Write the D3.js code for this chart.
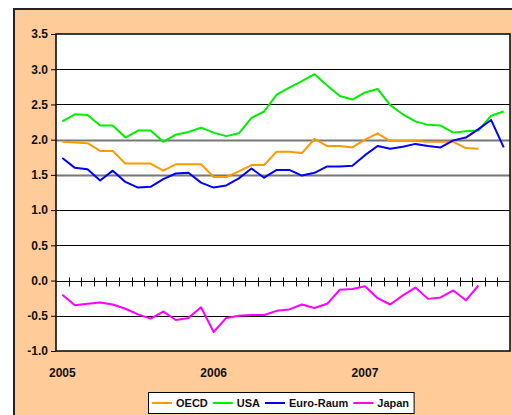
<!DOCTYPE html>
<html>
<head>
<meta charset="utf-8">
<script src="https://cdn.jsdelivr.net/npm/d3@7"></script>
<style>
  html, body { margin: 0; padding: 0; background: #ffffff; }
  svg { display: block; font-family: "Liberation Sans", Arial, sans-serif; }
</style>
</head>
<body>
<svg id="chart" width="512" height="415"></svg>
<script>
// ---- data ----
const months = d3.range(36); // Jan 2005 .. Dec 2007
const yearLabels = ["2005", "2006", "2007"];
const yearIndex = [0, 12, 24];
const yTicks = [-1.0, -0.5, 0.0, 0.5, 1.0, 1.5, 2.0, 2.5, 3.0, 3.5];

const oecd = [1.97,1.96,1.95,1.84,1.84,1.66,1.66,1.66,1.56,1.65,1.65,1.65,1.47,1.47,1.55,1.64,1.64,1.83,1.83,1.81,2.01,1.91,1.91,1.89,2.00,2.09,1.98,1.98,1.98,1.97,1.97,1.97,1.88,1.87];
const usa = [2.26,2.36,2.35,2.20,2.20,2.03,2.13,2.13,1.97,2.07,2.11,2.17,2.10,2.05,2.09,2.31,2.40,2.64,2.74,2.83,2.93,2.77,2.62,2.57,2.67,2.72,2.49,2.36,2.26,2.21,2.20,2.10,2.12,2.13,2.34,2.40];
const euro = [1.74,1.60,1.58,1.42,1.56,1.40,1.32,1.33,1.44,1.52,1.53,1.39,1.32,1.35,1.45,1.59,1.46,1.57,1.57,1.49,1.53,1.62,1.62,1.63,1.78,1.91,1.87,1.90,1.94,1.91,1.89,1.99,2.03,2.15,2.28,1.89];
const japan = [-0.20,-0.35,-0.33,-0.31,-0.34,-0.40,-0.48,-0.54,-0.44,-0.56,-0.53,-0.38,-0.73,-0.53,-0.50,-0.49,-0.49,-0.43,-0.41,-0.34,-0.39,-0.33,-0.13,-0.12,-0.08,-0.25,-0.34,-0.21,-0.10,-0.26,-0.24,-0.14,-0.28,-0.07];

const seriesNames = ["OECD", "USA", "Euro-Raum", "Japan"];
const seriesData = [oecd, usa, euro, japan];
const seriesColors = ["#FF9900", "#00EE00", "#0000FF", "#FF00FF"];

// ---- layout ----
const svg = d3.select("#chart");
const L = 56, R = 510, T = 34, B = 351;

svg.append("rect").attr("x", 14).attr("y", 9).attr("width", 520).attr("height", 430)
  .attr("fill", "#FFCC99").attr("stroke", "#222").attr("stroke-width", 2);

svg.append("rect").attr("x", L).attr("y", T).attr("width", R - L).attr("height", B - T)
  .attr("fill", "#ffffff");

const x = d3.scaleBand().domain(months).range([L, R]).padding(0);
const bw = x.bandwidth();
const cx = i => x(i) + bw / 2;
const y = d3.scaleLinear().domain([-1, 3.5]).range([B, T]);

// gridlines
svg.append("g").selectAll("line")
  .data(yTicks.filter(v => v !== 3.5 && v !== -1 && v !== 0))
  .join("line")
  .attr("x1", L).attr("x2", R)
  .attr("y1", d => Math.round(y(d)) + 0.5).attr("y2", d => Math.round(y(d)) + 0.5)
  .attr("stroke", d => (d === 2.0 || d === 1.5) ? "#777" : "#000")
  .attr("stroke-width", d => (d === 2.0 || d === 1.5) ? 2 : 1);

// y axis
const yAxis = d3.axisLeft(y).tickValues(yTicks).tickSize(5).tickPadding(3)
  .tickFormat(d => d.toFixed(1));
const gy = svg.append("g").attr("transform", `translate(${L},0)`).call(yAxis);
gy.select(".domain").remove();
gy.selectAll(".tick line").attr("stroke", "#000");
gy.selectAll(".tick text").attr("fill", "#111").attr("font-size", 12).attr("font-weight", "bold")
  .attr("font-family", "'Liberation Sans', Arial, sans-serif");

// plot frame
svg.append("rect").attr("x", L).attr("y", T).attr("width", R - L).attr("height", B - T)
  .attr("fill", "none").attr("stroke", "#000").attr("stroke-width", 1.5);

// x axis at zero
const y0 = Math.round(y(0)) + 0.5;
svg.append("line").attr("x1", L).attr("x2", R).attr("y1", y0).attr("y2", y0)
  .attr("stroke", "#000").attr("stroke-width", 1);
svg.append("g").selectAll("line")
  .data(months.slice(1))
  .join("line")
  .attr("x1", d => Math.round(x(d)) + 0.5).attr("x2", d => Math.round(x(d)) + 0.5)
  .attr("y1", y0 - 4).attr("y2", y0 + 5)
  .attr("stroke", "#000").attr("stroke-width", 1);

// year labels
svg.append("g").selectAll("text")
  .data(yearIndex)
  .join("text")
  .attr("x", d => cx(d)).attr("y", 377)
  .attr("text-anchor", "middle").attr("font-size", 12).attr("font-weight", "bold").attr("fill", "#111")
  .text((d, i) => yearLabels[i]);

// series lines
const line = d3.line().x((d, i) => cx(i)).y(d => y(d));
svg.append("g").selectAll("path")
  .data(seriesData)
  .join("path")
  .attr("d", d => line(d))
  .attr("fill", "none")
  .attr("stroke", (d, i) => seriesColors[i])
  .attr("stroke-width", 2)
  .attr("stroke-linejoin", "round");

// legend
const lg = svg.append("g");
const lbox = lg.append("rect").attr("x", 148.5).attr("y", 392.5).attr("width", 269).attr("height", 21)
  .attr("fill", "#fff").attr("stroke", "#000").attr("stroke-width", 1);
let lx = 152;
seriesNames.forEach((name, i) => {
  lg.append("line").attr("x1", lx).attr("x2", lx + 20).attr("y1", 403).attr("y2", 403)
    .attr("stroke", seriesColors[i]).attr("stroke-width", 2);
  const t = lg.append("text").attr("x", lx + 24).attr("y", 407)
    .attr("font-size", 11).attr("font-weight", "bold").attr("fill", "#111").text(name);
  lx = lx + 24 + t.node().getComputedTextLength() + 5;
});
lbox.attr("width", lx - 148.5 + 0);
</script>
</body>
</html>
